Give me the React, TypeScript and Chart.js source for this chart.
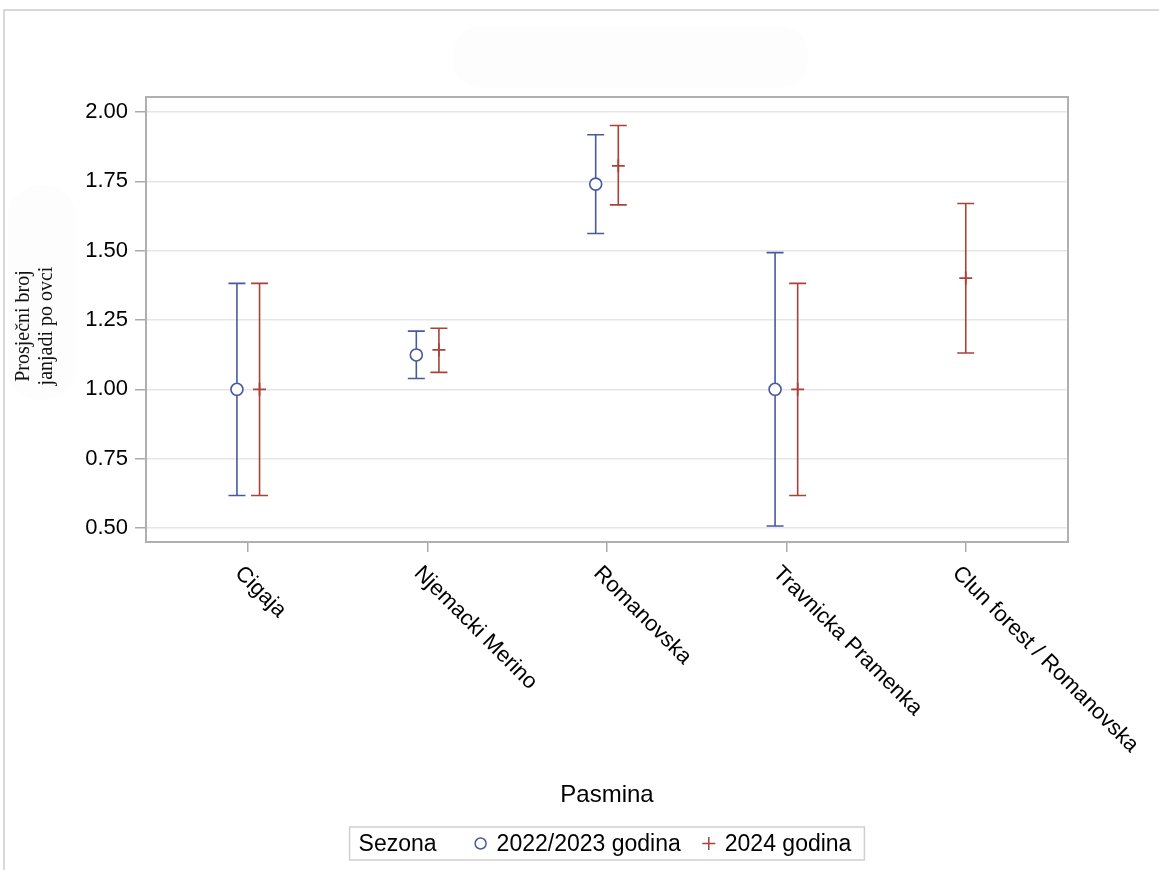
import React, { useEffect, useRef } from "react";
import { Chart, registerables } from "chart.js";

Chart.register(...registerables);

const categories = [
  "Cigaja",
  "Njemacki Merino",
  "Romanovska",
  "Travnicka Pramenka",
  "Clun forest / Romanovska",
];
const seriesNames = ["2022/2023 godina", "2024 godina"];
const season1Mean = [1.0, 1.124, 1.74, 1.0, null];
const season1Lower = [0.617, 1.039, 1.562, 0.507, null];
const season1Upper = [1.382, 1.21, 1.918, 1.493, null];
const season2Mean = [1.0, 1.142, 1.806, 1.0, 1.401];
const season2Lower = [0.617, 1.061, 1.665, 0.617, 1.131];
const season2Upper = [1.382, 1.22, 1.951, 1.382, 1.67];
const yTicks = [0.5, 0.75, 1.0, 1.25, 1.5, 1.75, 2.0];

const BLUE = "#485a9f";
const RED = "#a8433a";
const SANS = "Arial, 'Liberation Sans', Helvetica, sans-serif";
const SERIF = "'Times New Roman', 'Liberation Serif', serif";

const CLUSTER = 0.063;

function buildPoints(mean: (number | null)[], lo: (number | null)[], hi: (number | null)[], side: number) {
  const pts: any[] = [];
  mean.forEach((m, i) => {
    if (m === null) return;
    const both = season1Mean[i] !== null && season2Mean[i] !== null;
    pts.push({ x: i + (both ? side * CLUSTER : 0), y: m, lo: lo[i], hi: hi[i] });
  });
  return pts;
}

const errorBarPlugin = {
  id: "errorBars",
  beforeDraw(chart: any) {
    const ctx = chart.ctx;
    ctx.save();
    ctx.fillStyle = "#ffffff";
    ctx.fillRect(0, 0, chart.width, chart.height);
    // faint blobs
    ctx.fillStyle = "#fdfdfd";
    ctx.beginPath();
    (ctx as any).roundRect(453, 26, 355, 62, 28);
    ctx.fill();
    ctx.beginPath();
    (ctx as any).roundRect(8, 185, 68, 215, 32);
    ctx.fill();
    // outer frame
    ctx.strokeStyle = "#cccccc";
    ctx.lineWidth = 1.5;
    ctx.beginPath();
    ctx.moveTo(4, chart.height);
    ctx.lineTo(4, 10);
    ctx.lineTo(chart.width, 10);
    ctx.stroke();
    ctx.restore();
  },
  beforeDatasetsDraw(chart: any) {
    const ctx = chart.ctx;
    const xs = chart.scales.x;
    const ys = chart.scales.y;
    ctx.save();
    chart.data.datasets.forEach((ds: any) => {
      ctx.strokeStyle = ds.borderColor;
      ctx.lineWidth = 1.6;
      ds.data.forEach((p: any) => {
        const x = xs.getPixelForValue(p.x);
        const yl = ys.getPixelForValue(p.lo);
        const yh = ys.getPixelForValue(p.hi);
        ctx.beginPath();
        ctx.moveTo(x, yl);
        ctx.lineTo(x, yh);
        ctx.moveTo(x - 8.5, yl);
        ctx.lineTo(x + 8.5, yl);
        ctx.moveTo(x - 8.5, yh);
        ctx.lineTo(x + 8.5, yh);
        ctx.stroke();
      });
    });
    ctx.restore();
  },
  afterDraw(chart: any) {
    const ctx = chart.ctx;
    const a = chart.chartArea;
    const xs = chart.scales.x;
    ctx.save();
    // plot frame
    ctx.strokeStyle = "#b0b0b0";
    ctx.lineWidth = 2;
    ctx.strokeRect(a.left, a.top, a.right - a.left, a.bottom - a.top);
    // rotated category labels
    ctx.fillStyle = "#000";
    ctx.font = `22px ${SANS}`;
    ctx.textAlign = "left";
    ctx.textBaseline = "middle";
    categories.forEach((c, i) => {
      const tx = xs.getPixelForValue(i);
      ctx.save();
      ctx.translate(tx - 10, a.bottom + 28);
      ctx.rotate(Math.PI / 4);
      ctx.fillText(c, 0, 0);
      ctx.restore();
    });
    // x title
    ctx.font = `24px ${SANS}`;
    ctx.textAlign = "center";
    ctx.textBaseline = "middle";
    ctx.fillText("Pasmina", (a.left + a.right) / 2, 795);
    // y title
    ctx.save();
    ctx.translate(35.5, 326);
    ctx.rotate(-Math.PI / 2);
    ctx.font = `20px ${SERIF}`;
    ctx.fillStyle = "#111";
    ctx.fillText("Prosječni broj", 0, -11.5);
    ctx.fillText("janjadi po ovci", 0, 11.5);
    ctx.restore();
    // legend
    ctx.font = `23px ${SANS}`;
    const title = "Sezona";
    const wT = ctx.measureText(title).width;
    const w1 = ctx.measureText(seriesNames[0]).width;
    const w2 = ctx.measureText(seriesNames[1]).width;
    const padL = 9, gapTitle = 44, mGap = 16, itemGap = 28, padR = 13;
    const total = padL + wT + gapTitle + mGap + w1 + itemGap + mGap + w2 + padR;
    const bx = (a.left + a.right) / 2 - total / 2;
    const by = 827, bh = 33;
    const cy = by + bh / 2;
    ctx.strokeStyle = "#cfcfcf";
    ctx.lineWidth = 1.5;
    ctx.strokeRect(bx, by, total, bh);
    ctx.textAlign = "left";
    ctx.fillStyle = "#000";
    let cx = bx + padL;
    ctx.fillText(title, cx, cy + 1);
    cx += wT + gapTitle;
    ctx.strokeStyle = BLUE;
    ctx.lineWidth = 1.5;
    ctx.beginPath();
    ctx.arc(cx, cy, 5.5, 0, Math.PI * 2);
    ctx.stroke();
    cx += mGap;
    ctx.fillText(seriesNames[0], cx, cy + 1);
    cx += w1 + itemGap;
    ctx.strokeStyle = RED;
    ctx.beginPath();
    ctx.moveTo(cx - 6.5, cy);
    ctx.lineTo(cx + 6.5, cy);
    ctx.moveTo(cx, cy - 6.5);
    ctx.lineTo(cx, cy + 6.5);
    ctx.stroke();
    cx += mGap;
    ctx.fillText(seriesNames[1], cx, cy + 1);
    ctx.restore();
  },
};

export default function App() {
  const ref = useRef<HTMLCanvasElement | null>(null);
  useEffect(() => {
    if (!ref.current) return;
    const chart = new Chart(ref.current, {
      type: "scatter",
      data: {
        datasets: [
          {
            label: seriesNames[0],
            data: buildPoints(season1Mean, season1Lower, season1Upper, -1),
            borderColor: BLUE,
            backgroundColor: "#ffffff",
            pointStyle: "circle",
            pointRadius: 6,
            pointBorderWidth: 1.6,
          },
          {
            label: seriesNames[1],
            data: buildPoints(season2Mean, season2Lower, season2Upper, 1),
            borderColor: RED,
            backgroundColor: RED,
            pointStyle: "cross",
            pointRadius: 6.5,
            pointBorderWidth: 1.8,
          },
        ] as any,
      },
      plugins: [errorBarPlugin],
      options: {
        animation: false,
        responsive: false,
        devicePixelRatio: 1,
        layout: { padding: { left: 0, top: 97, right: 91, bottom: 0 } },
        plugins: { legend: { display: false }, tooltip: { enabled: false } },
        scales: {
          x: {
            type: "linear",
            min: -0.57,
            max: 4.57,
            afterBuildTicks: (s: any) => {
              s.ticks = categories.map((_, i) => ({ value: i }));
            },
            afterFit: (s: any) => {
              s.height = 328;
            },
            ticks: { display: false },
            border: { display: false },
            grid: {
              drawOnChartArea: false,
              drawTicks: true,
              tickLength: 10,
              tickColor: "#aaaaaa",
              lineWidth: 1.5,
            },
          },
          y: {
            type: "linear",
            min: 0.4495,
            max: 2.054,
            afterBuildTicks: (s: any) => {
              s.ticks = yTicks.map((v) => ({ value: v }));
            },
            afterFit: (s: any) => {
              s.width = 146;
            },
            ticks: {
              padding: 7,
              color: "#000",
              font: { family: SANS, size: 22 },
              callback: (v: any) => Number(v).toFixed(2),
            },
            border: { display: false },
            grid: {
              color: "#e6e6e6",
              lineWidth: 1.5,
              tickColor: "#aaaaaa",
              tickLength: 11,
            },
          },
        },
      } as any,
    });
    return () => chart.destroy();
  }, []);
  return (
    <div style={{ position: "absolute", left: 0, top: 0, width: 1159, height: 870, background: "#fff" }}>
      <canvas ref={ref} width={1159} height={870} style={{ display: "block" }} />
    </div>
  );
}
